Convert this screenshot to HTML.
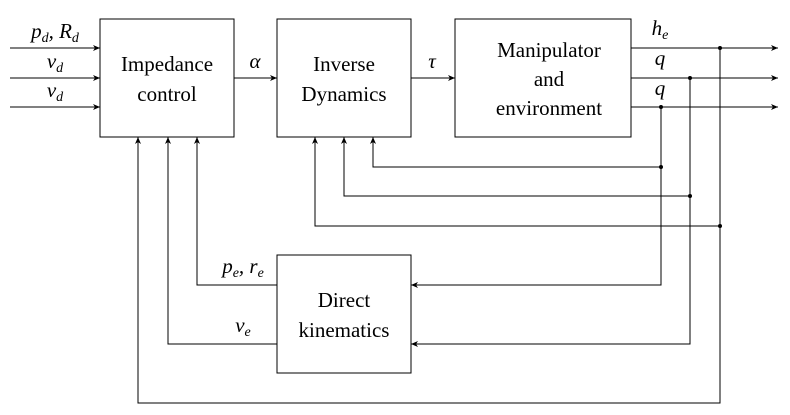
<!DOCTYPE html>
<html><head><style>html,body{margin:0;padding:0;background:#fff}
text{font-family:"Liberation Serif","DejaVu Serif",serif}</style></head>
<body>
<svg width="790" height="415" xmlns="http://www.w3.org/2000/svg" style="display:block">
<defs><marker id="a" markerWidth="8" markerHeight="6" refX="7" refY="3" orient="auto" markerUnits="userSpaceOnUse"><path d="M0,0 L7,3 L0,6 L2,3z" fill="#000"/></marker></defs>
<g fill="none" stroke="#000" stroke-width="1">
<rect x="100" y="19" width="134" height="118"/>
<rect x="277" y="19" width="134" height="118"/>
<rect x="455" y="19" width="176" height="118"/>
<rect x="277" y="255" width="134" height="118"/>
<path d="M10 48H100" marker-end="url(#a)"/>
<path d="M10 78H100" marker-end="url(#a)"/>
<path d="M10 107H100" marker-end="url(#a)"/>
<path d="M234 78H277" marker-end="url(#a)"/>
<path d="M411 78H455" marker-end="url(#a)"/>
<path d="M631 48H778" marker-end="url(#a)"/>
<path d="M631 78H778" marker-end="url(#a)"/>
<path d="M631 107H778" marker-end="url(#a)"/>
<path d="M661 107V167H373V137" marker-end="url(#a)"/>
<path d="M690 78V196H344V137" marker-end="url(#a)"/>
<path d="M720 48V226H315V137" marker-end="url(#a)"/>
<path d="M661 167V285H411" marker-end="url(#a)"/>
<path d="M690 196V344H411" marker-end="url(#a)"/>
<path d="M277 285H197V137" marker-end="url(#a)"/>
<path d="M277 344H168V137" marker-end="url(#a)"/>
<path d="M720 226V403H138V137" marker-end="url(#a)"/>
</g>
<g fill="#000"><circle cx="720" cy="48" r="2"/><circle cx="690" cy="78" r="2"/><circle cx="661" cy="107" r="2"/><circle cx="661" cy="167" r="2"/><circle cx="690" cy="196" r="2"/><circle cx="720" cy="226" r="2"/></g>
<g font-size="21" text-anchor="middle" fill="#000">
<text x="167" y="71">Impedance</text><text x="167" y="101">control</text>
<text x="344" y="71">Inverse</text><text x="344" y="101">Dynamics</text>
<text x="549" y="57">Manipulator</text><text x="549" y="86">and</text><text x="549" y="115">environment</text>
<text x="344" y="307">Direct</text><text x="344" y="337">kinematics</text>
<g font-style="italic">
<text x="55" y="38">p<tspan font-size="14" dy="4">d</tspan><tspan dy="-4">, R</tspan><tspan font-size="14" dy="4">d</tspan></text>
<text x="55" y="68">v<tspan font-size="14" dy="4">d</tspan></text>
<text x="55" y="97">v<tspan font-size="14" dy="4">d</tspan></text>
<text x="255" y="68">α</text><text x="432" y="68">τ</text>
<text x="660" y="35">h<tspan font-size="14" dy="4">e</tspan></text>
<text x="660" y="65">q</text><text x="660" y="95">q</text>
<text x="243" y="273">p<tspan font-size="14" dy="4">e</tspan><tspan dy="-4">, r</tspan><tspan font-size="14" dy="4">e</tspan></text>
<text x="243" y="332">v<tspan font-size="14" dy="4">e</tspan></text>
</g></g>
</svg>
</body></html>
